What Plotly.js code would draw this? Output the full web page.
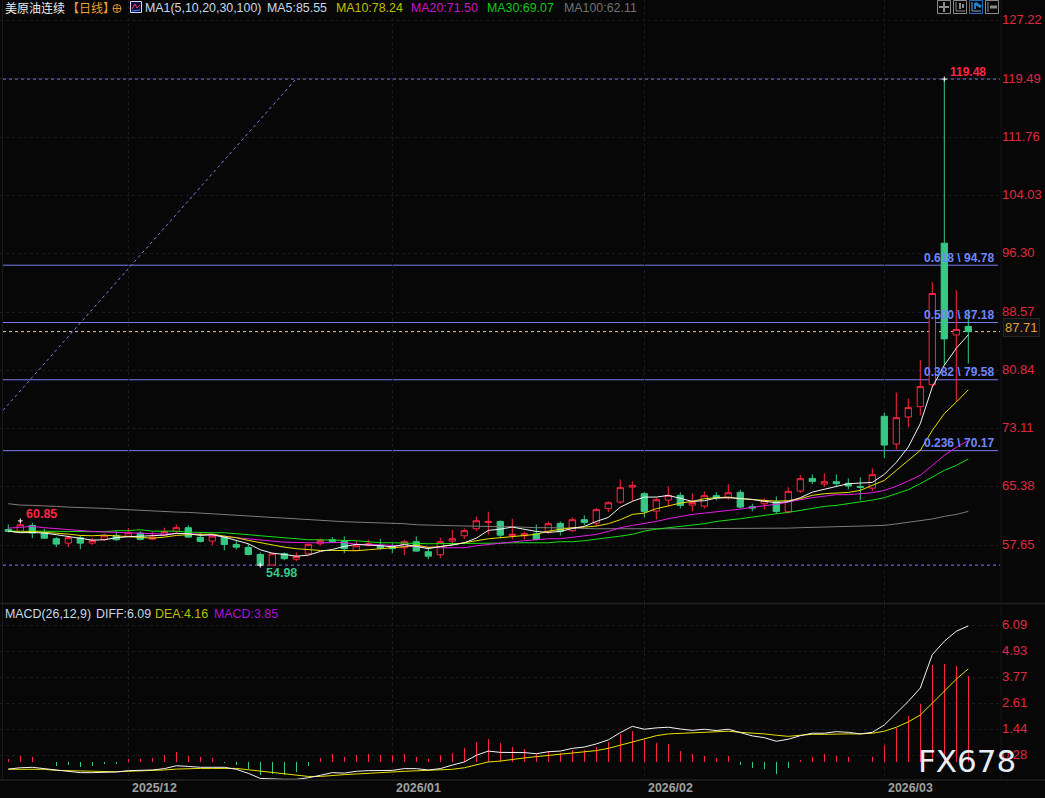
<!DOCTYPE html>
<html><head><meta charset="utf-8">
<script src="https://cdn.plot.ly/plotly-3.0.1.min.js"></script>
<style>html,body{margin:0;padding:0;background:#070707;overflow:hidden}</style>
</head><body><div id="chart" style="width:1045px;height:798px"></div>
<script>
const openS=[59.72,59.49,60.25,59.23,58.48,57.90,58.62,57.90,58.39,58.88,58.83,59.23,58.43,58.96,59.45,59.95,58.66,58.17,58.70,57.73,57.33,56.40,55.00,56.49,55.77,56.49,57.82,58.35,58.17,
56.93,57.64,57.59,57.46,57.29,58.09,56.76,56.36,58.17,58.88,59.81,60.65,60.78,58.92,58.88,59.15,59.41,60.52,59.55,61.01,60.56,62.47,63.35,65.34,
64.46,62.15,63.61,64.24,62.95,62.81,64.20,63.93,64.64,62.73,63.13,63.39,62.07,64.81,66.49,65.73,66.05,65.83,65.43,65.20,74.73,71.05,74.63,76.01,78.93,97.70,85.52,86.64];
const highS=[60.39,60.85,60.61,59.81,58.70,58.92,58.92,58.62,59.15,59.49,59.89,59.49,59.45,59.95,60.38,60.25,59.23,59.15,58.92,58.17,57.82,56.67,56.62,56.67,56.67,57.82,58.53,58.70,58.79,
58.17,58.35,58.48,57.90,58.35,58.79,57.29,58.62,59.68,59.85,61.41,62.07,60.91,61.14,59.41,60.38,60.78,60.78,61.31,61.58,62.55,63.44,66.36,66.09,
64.67,63.93,65.43,64.64,64.50,64.77,64.67,65.70,64.99,63.13,63.84,64.10,65.30,66.93,67.02,67.16,67.02,66.49,66.62,67.82,75.22,77.87,77.08,82.16,92.52,119.48,91.46,88.90];
const lowS=[59.32,59.36,58.56,58.50,57.37,57.37,57.10,57.69,58.17,58.17,58.70,58.26,58.35,58.92,59.23,58.62,57.99,57.59,56.93,57.06,56.27,54.98,54.98,55.64,55.51,56.40,57.59,57.99,56.57,
56.84,57.46,57.02,56.57,56.30,56.76,55.77,55.91,57.90,58.43,59.49,59.05,58.53,58.43,58.39,58.26,59.15,58.92,59.36,60.25,60.12,62.02,63.13,63.48,
61.31,61.05,62.77,62.51,62.11,62.47,63.57,63.66,62.47,62.11,62.38,61.80,61.84,64.54,65.73,65.39,65.43,65.03,63.57,64.77,69.19,70.34,73.30,74.86,78.58,81.50,76.72,81.73];
const closeS=[59.45,60.34,59.23,58.56,57.77,58.62,57.90,58.26,58.88,58.35,59.28,58.39,58.70,59.45,59.95,58.70,58.13,58.83,57.73,57.37,56.40,55.00,56.49,55.83,56.13,57.73,58.26,58.13,57.16,
57.55,57.82,57.24,57.16,58.09,56.84,56.17,58.09,58.48,59.55,60.87,60.78,58.96,59.06,59.15,58.39,60.48,59.45,61.01,60.65,62.34,63.26,65.26,65.56,
62.11,63.66,64.24,62.91,63.30,64.20,63.93,64.59,62.68,62.55,63.57,62.11,64.77,66.45,66.09,66.05,65.79,65.47,65.30,66.98,70.91,74.55,75.88,78.67,91.02,85.00,86.24,85.97];

const ma5=[59.49,59.28,59.32,59.23,59.02,58.79,58.53,58.30,58.35,58.62,58.75,58.83,58.83,58.96,59.19,59.15,58.92,59.02,58.70,58.26,57.82,57.02,56.57,56.40,56.17,56.30,56.80,57.06,57.46,
57.73,57.69,57.55,57.42,57.73,57.46,57.16,57.46,57.64,57.95,58.56,59.59,59.76,60.03,59.76,59.45,59.32,59.45,59.85,60.12,60.78,61.31,62.68,63.44,
64.01,64.01,64.24,63.84,63.44,63.53,63.88,63.93,63.84,63.70,63.44,63.27,63.40,63.93,64.67,65.03,65.47,65.79,65.87,65.96,67.02,68.62,70.65,73.76,78.62,81.50,83.76,85.55];
const ma10=[59.49,59.36,59.45,59.36,59.23,59.10,58.92,58.88,58.96,58.88,58.75,58.66,58.56,58.70,58.92,59.02,59.02,59.10,58.83,58.62,58.26,57.95,57.69,57.37,57.16,57.06,56.93,56.93,56.93,
56.89,57.02,57.20,57.29,57.42,57.64,57.33,57.42,57.69,57.95,58.17,58.48,58.62,58.79,58.92,59.06,59.49,59.68,59.95,60.03,60.16,60.48,61.01,61.71,
61.88,62.47,62.81,63.21,63.44,63.80,63.93,64.01,63.80,63.66,63.57,63.48,63.53,63.80,64.24,64.46,64.59,64.63,64.90,65.56,66.23,67.55,68.88,70.21,72.87,75.08,76.62,78.24];
const ma20=[59.89,60.03,60.12,59.95,59.81,59.68,59.55,59.45,59.39,59.32,59.28,59.19,59.15,59.10,59.19,59.15,59.10,58.92,58.79,58.66,58.53,58.35,58.17,58.03,57.95,57.95,57.95,57.99,57.99,
57.73,57.73,57.69,57.59,57.50,57.42,57.33,57.29,57.29,57.29,57.55,57.73,57.90,58.13,58.22,58.35,58.48,58.48,58.66,58.79,59.06,59.45,59.95,60.25,
60.48,60.78,61.14,61.45,61.71,61.88,62.02,62.24,62.41,62.68,62.87,63.04,63.30,63.66,63.93,64.10,64.33,64.33,64.46,64.59,64.90,65.43,66.16,66.89,68.22,69.55,70.61,71.50];
const ma30=[59.55,59.45,59.49,59.49,59.45,59.41,59.41,59.41,59.41,59.55,59.55,59.68,59.49,59.49,59.49,59.36,59.28,59.28,59.28,59.19,59.02,58.88,58.75,58.53,58.43,58.35,58.35,58.26,58.26,
58.22,58.09,57.95,57.95,57.95,57.86,57.82,57.82,57.82,57.86,57.90,57.90,57.90,57.95,57.95,57.95,57.95,58.09,58.09,58.22,58.39,58.62,58.83,59.06,
59.49,59.76,59.95,60.12,60.34,60.48,60.78,61.01,61.14,61.35,61.62,61.80,61.98,62.24,62.55,62.77,62.91,63.13,63.35,63.61,63.93,64.46,64.99,65.79,66.66,67.55,68.22,69.07];
const ma100=[63.13,62.95,62.91,62.87,62.77,62.68,62.64,62.55,62.51,62.42,62.33,62.24,62.15,62.07,62.02,61.98,61.88,61.80,61.71,61.58,61.49,61.41,61.31,61.22,61.09,61.01,60.91,60.82,60.74,
60.69,60.65,60.56,60.48,60.48,60.34,60.34,60.25,60.21,60.16,60.16,60.12,60.08,60.08,59.99,59.95,59.95,59.95,59.89,59.85,59.81,59.79,59.79,59.79,
59.79,59.81,59.81,59.81,59.81,59.81,59.81,59.81,59.85,59.85,59.85,59.85,59.89,59.95,59.99,59.99,60.03,60.08,60.12,60.16,60.25,60.45,60.65,60.91,61.11,61.45,61.71,62.11];

const diff=[-.34,-.28,-.26,-.32,-.40,-.43,-.50,-.50,-.49,-.47,-.41,-.40,-.38,-.32,-.19,-.22,-.26,-.26,-.26,-.35,-.53,-.76,-.79,-.80,-.80,-.73,-.62,-.50,-.52,-.44,-.41,-.40,-.40,-.32,-.32,-.38,-.32,
-.16,-.02,.28,.47,.41,.41,.40,.35,.44,.47,.59,.65,.79,.97,1.30,1.58,1.45,1.51,1.54,1.46,1.40,1.45,1.39,1.45,1.30,1.15,1.07,.91,1.00,1.16,1.27,1.27,1.34,1.31,1.24,1.31,1.64,2.17,2.70,3.30,4.80,5.40,5.85,6.09];
const dea=[-.35,-.35,-.35,-.35,-.40,-.41,-.44,-.46,-.46,-.46,-.44,-.43,-.41,-.38,-.34,-.31,-.31,-.31,-.31,-.31,-.37,-.43,-.50,-.58,-.62,-.67,-.67,-.62,-.59,-.56,-.52,-.50,-.47,-.44,-.41,-.40,-.38,
-.35,-.28,-.16,-.02,.02,.10,.16,.22,.28,.34,.40,.43,.49,.59,.74,.89,1.03,1.16,1.24,1.27,1.28,1.31,1.36,1.36,1.31,1.28,1.24,1.18,1.13,1.18,1.22,1.22,1.24,1.24,1.24,1.27,1.36,1.54,1.78,2.09,2.62,3.18,3.70,4.16];
const macdBars=[.10,.24,.21,-.03,-.20,-.16,-.25,-.22,-.12,-.12,.10,.10,.15,.30,.42,.27,.20,.15,-.07,-.15,-.35,-.62,-.55,-.60,-.45,-.20,.15,.33,.22,.28,.33,.30,.28,.35,.22,.10,.28,
.39,.62,.89,1.00,.81,.63,.54,.32,.47,.39,.50,.50,.66,.89,1.22,1.35,.96,.81,.77,.45,.32,.27,.18,.23,-.15,-.30,-.35,-.55,-.30,.09,.22,.32,.27,.20,-.03,.20,.74,1.49,2.03,2.57,4.32,4.37,4.28,3.85];

const priceTicks=[127.22,119.49,111.76,104.03,96.30,88.57,80.84,73.11,65.38,57.65];
const priceTickText=['127.22','119.49','111.76','104.03','96.30','88.57','80.84','73.11','65.38','57.65'];
const macdTicks=[6.09,4.93,3.77,2.61,1.44,0.28];
const macdTickText=['6.09','4.93','3.77','2.61','1.44','0.28'];
const monthIndex=[10,32,53,73];
const monthLabels=['2025/12','2026/01','2026/02','2026/03'];
const fibLevels=[94.78,87.18,79.58,70.17];
const fibLabels=['0.618 \\ 94.78','0.500 \\ 87.18','0.382 \\ 79.58','0.236 \\ 70.17'];
const dashLevels=[119.48,54.98];
const lastPriceLine=85.97;
const trendX=[-0.44,23.9];
const trendY=[75.52,119.35];
const extremeX=[1,21,78];
const extremeY=[60.85,54.98,119.48];

const idx=openS.map((_,i)=>i);
const W=1045,H=798,AX=1001,YSPLIT=603.5,YBOT=780;
const BG='#070707',RED='#ff2442',GRN='#37c884',LIL='#7c7cf0';
const font='"Liberation Sans",Arial,sans-serif';
const px=x=>x/W, py=y=>1-y/H;

const line=(y,c,n,w)=>({type:'scatter',mode:'lines',x:idx,y:y,xaxis:'x',yaxis:n,line:{color:c,width:w||1},hoverinfo:'skip',showlegend:false});
const traces=[
 {type:'candlestick',x:idx,open:openS,high:highS,low:lowS,close:closeS,xaxis:'x',yaxis:'y',
  increasing:{line:{color:RED,width:1},fillcolor:BG},decreasing:{line:{color:GRN,width:1},fillcolor:GRN},
  showlegend:false,hoverinfo:'skip'},
 line(ma100,'#7d7d7d','y',1),line(ma30,'#18e018','y',1),line(ma20,'#e81ce8','y',1),line(ma10,'#e8e000','y',1),line(ma5,'#f4f4f4','y',1),
 {type:'scatter',mode:'markers',x:extremeX,y:extremeY,xaxis:'x',yaxis:'y',marker:{symbol:'cross-thin',size:3.5,line:{color:'#ffffff',width:1}},hoverinfo:'skip',showlegend:false},
 {type:'bar',x:idx,y:macdBars,xaxis:'x',yaxis:'y2',width:0.09,marker:{color:macdBars.map(v=>v>=0?RED:GRN),line:{width:0}},hoverinfo:'skip',showlegend:false},
 line(dea,'#e8e000','y2',1),line(diff,'#f4f4f4','y2',1)
];

const axisLine=(y)=>({type:'line',xref:'paper',yref:'paper',x0:0,x1:1,y0:py(y),y1:py(y),line:{color:'#222222',width:1.5}});
const shapes=[axisLine(YSPLIT),axisLine(YBOT),
 {type:'line',xref:'paper',yref:'paper',x0:px(2.5),x1:px(2.5),y0:py(YBOT),y1:py(0),line:{color:'#1a1a1a',width:1}},
 {type:'line',xref:'paper',yref:'paper',x0:px(AX),x1:px(AX),y0:py(YBOT),y1:py(0),line:{color:'#141414',width:1}},
 ...fibLevels.map(v=>({type:'line',layer:'below',xref:'paper',yref:'y',x0:px(3),x1:px(998),y0:v,y1:v,line:{color:LIL,width:1}})),
 ...dashLevels.map(v=>({type:'line',layer:'below',xref:'paper',yref:'y',x0:px(3),x1:px(1000),y0:v,y1:v,line:{color:LIL,width:1,dash:'3px,3px'}})),
 {type:'line',layer:'below',xref:'paper',yref:'y',x0:px(3),x1:px(1000),y0:lastPriceLine,y1:lastPriceLine,line:{color:'#e8c9a0',width:1,dash:'3px,3px'}},
 {type:'line',layer:'below',xref:'x',yref:'y',x0:trendX[0],x1:trendX[1],y0:trendY[0],y1:trendY[1],line:{color:LIL,width:1,dash:'3px,3px'}}
];
const box=(x0,y0,x1,y1,c,fill)=>({type:'rect',xref:'paper',yref:'paper',x0:px(x0),x1:px(x1),y0:py(y0),y1:py(y1),line:{color:c,width:1},fillcolor:fill||'rgba(0,0,0,0)'});
const seg=(x0,y0,x1,y1,c,w)=>({type:'line',xref:'paper',yref:'paper',x0:px(x0),x1:px(x1),y0:py(y0),y1:py(y1),line:{color:c,width:w||1}});
const TB='#8c8c8c';
shapes.push(box(937.5,0.5,950.5,13.5,TB),box(953.5,0.5,966.5,13.5,TB),box(969.5,0.5,982.5,13.5,'#1c70c0'),box(985.5,0.5,998.5,13.5,TB),
 seg(944,2,944,12,TB,2),seg(939,7,949,7,TB,2),
 seg(956,2,956,11,TB),seg(956,11,965,11,TB),seg(960,3,960,9,TB,2),seg(963,4,963,8,TB,2),
 seg(972,2,972,11,'#78a8d8'),seg(972,11,981,11,'#78a8d8'),seg(975,3,981,7,'#2080d0',3),seg(975,9,975,3,'#2080d0',2),
 seg(988,2,988,12,TB),seg(990,7,997,7,TB,3),
 {type:'circle',xref:'paper',yref:'paper',x0:px(113),x1:px(121),y0:py(4.5),y1:py(12.5),line:{color:'#d89028',width:1}},
 seg(113,8.5,121,8.5,'#d89028'),seg(117,4.5,117,12.5,'#d89028'),
 box(130.5,1.5,141.5,12.5,'#d8d8ff','#101040'),seg(132,9,135,4,'#ff4040'),seg(135,4,137,8,'#ff4040'),seg(137,8,140,5,'#ff4040'),seg(132,11,140,10,'#4080ff'));

const ann=(x,y,t,c,o)=>Object.assign({xref:'paper',yref:'paper',x:px(x),y:py(y),text:t,showarrow:false,xanchor:'left',yanchor:'middle',font:{family:font,size:12.4,color:c},borderpad:0},o||{});
const annotations=[
 ann(4,7.5,'美原油连续','#ececec',{font:{family:'"Noto Sans CJK SC"',size:12,color:'#ececec'}}),
 ann(66,7.5,'【日线】','#e8a030',{font:{family:'"Noto Sans CJK SC"',size:12,color:'#e8a030'}}),
 ann(144,7.5,'MA1(5,10,20,30,100)','#c8d8e8'),
 ann(266,7.5,'MA5:85.55','#c8d8e8'),
 ann(335,7.5,'MA10:78.24','#c0c000'),
 ann(410,7.5,'MA20:71.50','#c814c8'),
 ann(486,7.5,'MA30:69.07','#14c814'),
 ann(563,7.5,'MA100:62.11','#707070'),
 ann(4,613.5,'MACD(26,12,9)','#c8d8e8'),
 ann(95,613.5,'DIFF:6.09','#c8d8e8'),
 ann(154,613.5,'DEA:4.16','#b8c000'),
 ann(213,613.5,'MACD:3.85','#b010d0'),
 ann(25,513.5,'60.85',RED,{font:{family:font,size:12.5,color:RED,weight:700}}),
 ann(265,572.5,'54.98',GRN,{font:{family:font,size:12.5,color:GRN,weight:700}}),
 ann(949,71.5,'119.48',RED,{font:{family:font,size:12,color:RED,weight:700}}),
 ann(1003,327,'87.71','#e8a040',{bgcolor:'#101010',bordercolor:'#262626',borderpad:1,font:{family:font,size:13,color:'#e8a040'}}),
 ann(917,761,'FX678','#e6edf5',{font:{family:'"DejaVu Sans"',size:31,color:'#e6edf5'}}),
 ...fibLevels.map((v,i)=>({xref:'x',yref:'y',x:82.3,y:v,yshift:7.5,text:fibLabels[i],showarrow:false,xanchor:'right',yanchor:'middle',font:{family:font,size:12,color:'#6f86ff',weight:700}})),
 ...monthIndex.map((v,i)=>({xref:'x',yref:'paper',x:v,xshift:1.5,y:py(788),text:monthLabels[i],showarrow:false,xanchor:'left',yanchor:'middle',font:{family:font,size:12.4,color:'#a0a0a0',weight:700}}))
];

const GRID='#1b1b1b';
const yBase={side:'right',anchor:'x',showline:false,zeroline:false,showgrid:true,gridcolor:GRID,griddash:'dot',gridwidth:1,
 ticks:'',tickmode:'array',ticklabelshift:-1,tickfont:{family:font,size:13,color:'#e02840'},fixedrange:true};
const layout={width:W,height:H,margin:{l:0,r:0,t:0,b:0},paper_bgcolor:BG,plot_bgcolor:BG,showlegend:false,dragmode:false,
 hovermode:false,bargap:0,boxgap:0.25,
 xaxis:{domain:[0,AX/W],range:[-8.3/12,(AX-8.3)/12],anchor:'y2',tickmode:'array',tickvals:monthIndex,ticktext:monthIndex.map(()=>''),ticks:'',
  showgrid:true,gridcolor:GRID,griddash:'dot',gridwidth:1,zeroline:false,showline:false,rangeslider:{visible:false},fixedrange:true},
 yaxis:Object.assign({},yBase,{domain:[py(YSPLIT),1],range:[49.89,129.97],tickvals:priceTicks,ticktext:priceTickText}),
 yaxis2:Object.assign({},yBase,{domain:[py(YBOT),py(604.5)],range:[-0.83,7.05],tickvals:macdTicks,ticktext:macdTickText}),
 shapes:shapes,annotations:annotations};
Plotly.newPlot('chart',traces,layout,{displayModeBar:false,staticPlot:true});
</script></body></html>
